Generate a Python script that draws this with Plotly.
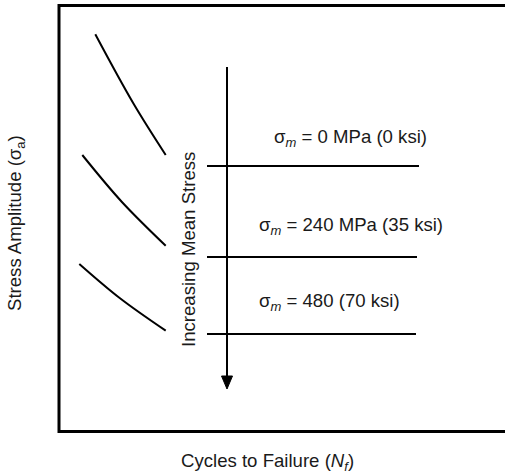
import plotly.graph_objects as go

# Canvas-like coordinates: x to the right, y upward (476 = top of figure)
H = 476

# S-N curve segments (low-cycle region)
curve1_x = [95.3, 133.3, 165.7]
curve1_y = [34.3, 103.3, 155.0]
curve2_x = [82.3, 121.7, 165.7]
curve2_y = [155.0, 201.7, 245.7]
curve3_x = [79.3, 120.0, 165.7]
curve3_y = [264.0, 298.3, 330.7]

# Endurance-limit (horizontal) lines
limit_x_start = [207, 207, 207]
limit_x_end = [419, 417, 416]
limit_y = [166, 257, 334]

labels = ["σ<sub><i>m</i></sub> = 0 MPa (0 ksi)",
          "σ<sub><i>m</i></sub> = 240 MPa (35 ksi)",
          "σ<sub><i>m</i></sub> = 480 (70 ksi)"]
label_x = [272, 257, 257]
label_y = [138, 226, 302]

# Arrow (increasing mean stress)
arrow_x = [227, 227]
arrow_y = [67, 378]
head_x = [221.5, 232.5, 227, 221.5]
head_y = [376, 376, 389, 376]

FONT = "Liberation Sans, Arial, sans-serif"
FS = 18.6


def Y(v):
    return [H - t for t in v]


fig = go.Figure()
for cx, cy in [(curve1_x, curve1_y), (curve2_x, curve2_y), (curve3_x, curve3_y)]:
    fig.add_trace(go.Scatter(x=cx, y=Y(cy), mode="lines", line=dict(color="black", width=2, shape="spline"),
                             hoverinfo="skip", showlegend=False))
for xs, xe, yy in zip(limit_x_start, limit_x_end, limit_y):
    fig.add_trace(go.Scatter(x=[xs, xe], y=Y([yy, yy]), mode="lines", line=dict(color="black", width=1.8),
                             hoverinfo="skip", showlegend=False))
fig.add_trace(go.Scatter(x=arrow_x, y=Y(arrow_y), mode="lines", line=dict(color="black", width=2),
                         hoverinfo="skip", showlegend=False))
fig.add_trace(go.Scatter(x=head_x, y=Y(head_y), mode="lines", fill="toself", fillcolor="black",
                         line=dict(color="black", width=1), hoverinfo="skip", showlegend=False))

# Frame: left, top, bottom (right edge lies outside the picture)
fig.add_shape(type="path", path=f"M 530 {H-5.5} L 59 {H-5.5} L 59 {H-431.5} L 530 {H-431.5}",
              line=dict(color="black", width=3), xref="x", yref="y")

for t, lx, ly in zip(labels, label_x, label_y):
    fig.add_annotation(x=lx, y=H - ly, text=t, showarrow=False, xanchor="left", yanchor="middle",
                       font=dict(family=FONT, size=FS, color="#1a1a1a"))

fig.add_annotation(x=188, y=H - 250, text="Increasing Mean Stress", textangle=-90, showarrow=False,
                   xanchor="center", yanchor="middle", font=dict(family=FONT, size=FS, color="#1a1a1a"))
fig.add_annotation(x=16, y=H - 223, text="Stress Amplitude (σ<sub>a</sub>)", textangle=-90, showarrow=False,
                   xanchor="center", yanchor="middle", font=dict(family=FONT, size=FS, color="#1a1a1a"))
fig.add_annotation(x=267, y=H - 462, text="Cycles to Failure (<i>N<sub>f</sub></i>)", showarrow=False,
                   xanchor="center", yanchor="middle", font=dict(family=FONT, size=FS, color="#1a1a1a"))

fig.update_layout(width=505, height=476, margin=dict(l=0, r=0, t=0, b=0),
                  paper_bgcolor="white", plot_bgcolor="white",
                  xaxis=dict(range=[0, 505], visible=False, fixedrange=True),
                  yaxis=dict(range=[0, H], visible=False, fixedrange=True),
                  showlegend=False)
fig.write_html("out.html")
